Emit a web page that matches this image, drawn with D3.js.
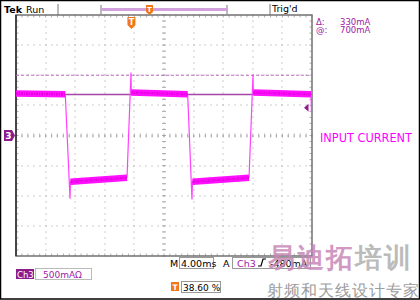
<!DOCTYPE html>
<html>
<head>
<meta charset="utf-8">
<script src="https://cdn.jsdelivr.net/npm/d3@7"></script>
<style>
  body { margin: 0; background: #fff; }
  svg { display: block; }
  text { font-family: "DejaVu Sans", sans-serif; }
</style>
</head>
<body>
<svg id="viz" width="420" height="300"></svg>
<script>
// scope settings
var msPerDiv = 4.0;
var mAPerDiv = 500;
var xDivs = 10, yDivs = 8;

// flat parts of the Ch3 trace (ms / mA)
var plateauT0 = [0, 7.36, 15.58, 23.85, 32.07];
var plateauT1 = [6.66, 15.0, 23.2, 31.49, 39.86];
var plateauI0 = [697, -768, 712, -768, 712];
var plateauI1 = [684, -700, 684, -700, 684];

// switching edges incl. overshoot spikes
var edgeTime = [[6.66, 7.30, 7.36], [15.0, 15.54, 15.58], [23.2, 23.78, 23.85], [31.49, 32.03, 32.07], [39.86, 39.93]];
var edgeCurrent = [[684, -1050, -768], [-700, 1046, 712], [684, -1062, -768], [-700, 1013, 712], [684, 382]];

// cursors, markers, readouts
var cursorLevels = [680, 1000];
var cursorLabels = ["330mA", "700mA"];
var refLevel = 0;
var trigLevel = 460;
var trigTime = 15.6;
var readTimebase = "4.00ms";
var readScale = "500mA";
var readTrig = "-480mA";
var readPos = "38.60 %";

var svg = d3.select("#viz");
var x = d3.scaleLinear().domain([0, xDivs * msPerDiv]).range([16, 312]);
var y = d3.scaleLinear().domain([-yDivs / 2 * mAPerDiv, yDivs / 2 * mAPerDiv]).range([256, 15]);

var purple = "#8c1c8c", magenta = "#ff10ff", orange = "#f07818", gridCol = "#9a9a9a";

// outer frame
svg.append("rect").attr("x", 0.5).attr("y", 0.5).attr("width", 419).attr("height", 298.5)
  .attr("fill", "none").attr("stroke", "#000").attr("stroke-width", 1.5);

// graticule
var grid = svg.append("g");
var minorX = d3.range(0, xDivs * 5 + 1).map(function (i) { return i * msPerDiv / 5; });
var minorY = d3.range(0, yDivs * 5 + 1).map(function (i) { return -yDivs / 2 * mAPerDiv + i * mAPerDiv / 5; });
var majorX = d3.range(1, xDivs).map(function (i) { return i * msPerDiv; });
var majorY = d3.range(1, yDivs).map(function (i) { return -yDivs / 2 * mAPerDiv + i * mAPerDiv; });

majorX.forEach(function (t) {
  minorY.forEach(function (v) {
    grid.append("rect").attr("x", Math.round(x(t)) - 0.5).attr("y", Math.round(y(v)) - 0.5)
      .attr("width", 1).attr("height", 1).attr("fill", gridCol);
  });
});
majorY.forEach(function (v) {
  minorX.forEach(function (t) {
    grid.append("rect").attr("x", Math.round(x(t)) - 0.5).attr("y", Math.round(y(v)) - 0.5)
      .attr("width", 1).attr("height", 1).attr("fill", gridCol);
  });
});
// centre and edge ticks
minorX.forEach(function (t) {
  grid.append("line").attr("x1", x(t)).attr("x2", x(t)).attr("y1", y(0) - 2).attr("y2", y(0) + 2)
    .attr("stroke", gridCol).attr("stroke-width", 0.8);
  grid.append("line").attr("x1", x(t)).attr("x2", x(t)).attr("y1", y(2000)).attr("y2", y(2000) + 2.5)
    .attr("stroke", gridCol).attr("stroke-width", 0.8);
  grid.append("line").attr("x1", x(t)).attr("x2", x(t)).attr("y1", y(-2000)).attr("y2", y(-2000) - 2.5)
    .attr("stroke", gridCol).attr("stroke-width", 0.8);
});
minorY.forEach(function (v) {
  grid.append("line").attr("x1", x(20) - 2).attr("x2", x(20) + 2).attr("y1", y(v)).attr("y2", y(v))
    .attr("stroke", gridCol).attr("stroke-width", 0.8);
  grid.append("line").attr("x1", x(40)).attr("x2", x(40) - 2.5).attr("y1", y(v)).attr("y2", y(v))
    .attr("stroke", gridCol).attr("stroke-width", 0.8);
  grid.append("line").attr("x1", x(0)).attr("x2", x(0) + 2.5).attr("y1", y(v)).attr("y2", y(v))
    .attr("stroke", gridCol).attr("stroke-width", 0.8);
});
grid.append("rect").attr("x", x(0)).attr("y", y(2000)).attr("width", x(40) - x(0)).attr("height", y(-2000) - y(2000))
  .attr("fill", "none").attr("stroke", "#7a7a7a").attr("stroke-width", 1.6);
grid.append("line").attr("x1", x(0)).attr("x2", x(0)).attr("y1", y(2000)).attr("y2", y(-2000))
  .attr("stroke", "#333").attr("stroke-width", 1.6);

// cursors
svg.append("line").attr("x1", x(0)).attr("x2", x(40)).attr("y1", y(cursorLevels[1])).attr("y2", y(cursorLevels[1]))
  .attr("stroke", "#c070c8").attr("stroke-width", 1).attr("stroke-dasharray", "3,2");
svg.append("line").attr("x1", x(0)).attr("x2", x(40)).attr("y1", y(cursorLevels[0])).attr("y2", y(cursorLevels[0]))
  .attr("stroke", "#a844a8").attr("stroke-width", 1.4);

// trace
var line = d3.line().x(function (d) { return x(d[0]); }).y(function (d) { return y(d[1]); });
var trace = svg.append("g");
edgeTime.forEach(function (ts, i) {
  trace.append("path").attr("d", line(ts.map(function (t, j) { return [t, edgeCurrent[i][j]]; })))
    .attr("fill", "none").attr("stroke", "#ff40ff").attr("stroke-width", 1.2);
});
plateauT0.forEach(function (t0, i) {
  var pts = [[t0, plateauI0[i]], [plateauT1[i], plateauI1[i]]];
  trace.append("path").attr("d", line(pts)).attr("fill", "none")
    .attr("stroke", magenta).attr("stroke-width", 6.5);
  trace.append("path").attr("d", line(pts)).attr("fill", "none")
    .attr("stroke", "#e800e0").attr("stroke-width", 2.5).attr("stroke-dasharray", "2,1,1,1");
});

// ch3 ground marker
var gy = y(refLevel);
svg.append("path").attr("d", "M4," + (gy - 5.5) + "H12L15," + gy + "L12," + (gy + 5.5) + "H4Z").attr("fill", purple);
svg.append("text").attr("x", 8.5).attr("y", gy + 3.5).attr("text-anchor", "middle")
  .attr("font-size", 9).attr("font-weight", "bold").attr("fill", "#fff").text("3");

// trigger level marker
var ty = y(trigLevel);
svg.append("path").attr("d", "M304," + ty + "L308.5," + (ty - 4) + "V" + (ty + 4) + "Z").attr("fill", purple);

// trigger position marker
var tx = x(trigTime);
svg.append("path").attr("d", "M" + (tx - 4) + ",17H" + (tx + 4) + "V25L" + tx + ",29L" + (tx - 4) + ",25Z").attr("fill", orange);
svg.append("text").attr("x", tx).attr("y", 25).attr("text-anchor", "middle")
  .attr("font-size", 8).attr("font-weight", "bold").attr("fill", "#fff").text("T");

// top status bar
svg.append("text").attr("x", 4).attr("y", 13).attr("font-size", 9.5).attr("font-weight", "bold").attr("fill", "#000").text("Tek");
svg.append("text").attr("x", 26).attr("y", 13).attr("font-size", 9.5).attr("fill", "#000").text("Run");
svg.append("line").attr("x1", 58).attr("x2", 58).attr("y1", 4).attr("y2", 15).attr("stroke", "#777");
svg.append("line").attr("x1", 101).attr("x2", 101).attr("y1", 5).attr("y2", 14).attr("stroke", "#777");
svg.append("line").attr("x1", 227).attr("x2", 227).attr("y1", 5).attr("y2", 14).attr("stroke", "#777");
svg.append("rect").attr("x", 101).attr("y", 8).attr("width", 126).attr("height", 3).attr("fill", "#d2a0dc");
svg.append("path").attr("d", "M146,5H153V12L149.5,15L146,12Z").attr("fill", orange);
svg.append("text").attr("x", 149.5).attr("y", 12).attr("text-anchor", "middle")
  .attr("font-size", 7).attr("font-weight", "bold").attr("fill", "#fff").text("T");
svg.append("line").attr("x1", 270).attr("x2", 270).attr("y1", 4).attr("y2", 15).attr("stroke", "#777");
svg.append("text").attr("x", 272).attr("y", 12).attr("font-size", 9.5).attr("fill", "#000").text("Trig'd");

// cursor readout
var cur = svg.append("g").attr("font-size", 8.5).attr("fill", "#a020a8");
cur.append("text").attr("x", 316).attr("y", 24.5).text("\u0394:");
cur.append("text").attr("x", 340).attr("y", 24.5).text(cursorLabels[0]);
cur.append("text").attr("x", 316).attr("y", 32.5).text("@:");
cur.append("text").attr("x", 340).attr("y", 32.5).text(cursorLabels[1]);

// annotation
svg.append("text").attr("x", 320).attr("y", 141.5).attr("font-family", "Liberation Sans, Arial, sans-serif")
  .attr("font-size", 12.5).attr("textLength", 92).attr("lengthAdjust", "spacingAndGlyphs")
  .attr("fill", "#ff00ff").text("INPUT CURRENT");

// bottom readouts
svg.append("rect").attr("x", 16).attr("y", 269).attr("width", 18).attr("height", 10).attr("fill", purple);
svg.append("text").attr("x", 17).attr("y", 277.5).attr("font-size", 8.5).attr("fill", "#fff").text("Ch3");
svg.append("rect").attr("x", 35.5).attr("y", 268.5).attr("width", 56).attr("height", 11).attr("fill", "none").attr("stroke", "#bbb");
svg.append("text").attr("x", 43).attr("y", 277.5).attr("font-size", 9).attr("fill", "#a020a8").text(readScale + "\u03A9");

svg.append("text").attr("x", 170).attr("y", 267).attr("font-size", 9.5).attr("fill", "#000").text("M");
svg.append("rect").attr("x", 179.5).attr("y", 257.5).attr("width", 34).attr("height", 11).attr("fill", "none").attr("stroke", "#999");
svg.append("text").attr("x", 181).attr("y", 267).attr("font-size", 9.5).attr("fill", "#000").text(readTimebase);
svg.append("text").attr("x", 223).attr("y", 267).attr("font-size", 9.5).attr("fill", "#000").text("A");
svg.append("rect").attr("x", 232.5).attr("y", 257.5).attr("width", 78).attr("height", 11).attr("fill", "none").attr("stroke", "#999");
svg.append("text").attr("x", 237).attr("y", 267).attr("font-size", 9.5).attr("fill", "#a020a8").text("Ch3");
svg.append("path").attr("d", "M258,266H261L263,259H266").attr("fill", "none").attr("stroke", "#000").attr("stroke-width", 1.2);
svg.append("text").attr("x", 270).attr("y", 267).attr("font-size", 9.5).attr("fill", "#000").text(readTrig);

svg.append("rect").attr("x", 171).attr("y", 282).attr("width", 8).attr("height", 9).attr("fill", orange);
svg.append("text").attr("x", 175).attr("y", 289.5).attr("text-anchor", "middle").attr("font-size", 7.5)
  .attr("font-weight", "bold").attr("fill", "#fff").text("T");
svg.append("rect").attr("x", 181.5).attr("y", 281.5).attr("width", 39).attr("height", 11).attr("fill", "none").attr("stroke", "#999");
svg.append("text").attr("x", 183).attr("y", 290.5).attr("font-size", 9).attr("fill", "#000").text(readPos);

// watermark
var wm = svg.append("g").attr("font-family", "Noto Sans CJK SC").attr("font-weight", "bold").attr("opacity", 0.85);
wm.append("text").attr("x", 268).attr("y", 267).attr("font-size", 27).attr("letter-spacing", 2)
  .attr("fill", "#c888b8").text("易迪拓");
wm.append("text").attr("x", 355).attr("y", 267).attr("font-size", 27).attr("letter-spacing", 2)
  .attr("fill", "#b0b0b0").text("培训");
wm.append("text").attr("x", 267).attr("y", 296).attr("font-size", 15.5).attr("font-weight", "normal")
  .attr("letter-spacing", 1).attr("fill", "#8c8c8c").text("射频和天线设计专家");
</script>
</body>
</html>
